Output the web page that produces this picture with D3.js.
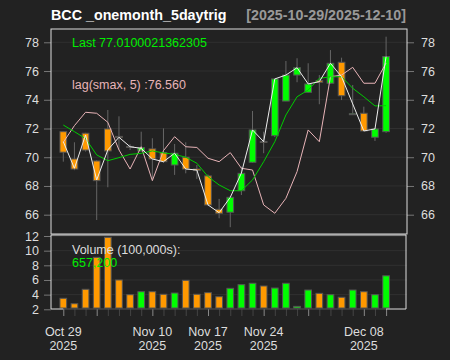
<!DOCTYPE html>
<html><head><meta charset="utf-8">
<script src="https://cdn.jsdelivr.net/npm/d3@7"></script>
<style>
html,body{margin:0;padding:0;background:#222222;}
svg{display:block;font-family:"Liberation Sans",Arial,Helvetica,sans-serif;}
</style></head>
<body><svg id="c" width="450" height="360"></svg>
<script>
const dates = ["2025-10-29","2025-10-30","2025-10-31","2025-11-03","2025-11-04","2025-11-05","2025-11-06","2025-11-07",
"2025-11-10","2025-11-11","2025-11-12","2025-11-13","2025-11-14","2025-11-17","2025-11-18","2025-11-19","2025-11-20","2025-11-21",
"2025-11-24","2025-11-25","2025-11-26","2025-11-28","2025-12-01","2025-12-02","2025-12-03","2025-12-04","2025-12-05",
"2025-12-08","2025-12-09","2025-12-10"];
const open  = [71.78,69.88,71.67,69.74,71.97,71.45,70.75,70.44,70.58,70.32,69.46,70.00,69.18,68.70,66.38,66.17,67.67,69.65,71.10,71.50,73.91,75.72,74.52,75.33,75.15,76.61,73.00,73.06,71.39,71.78];
const high  = [71.80,71.04,71.70,69.80,73.29,72.85,70.90,71.78,71.32,72.01,70.92,71.04,69.46,68.80,67.10,67.30,69.34,73.22,71.78,75.50,76.70,76.89,76.54,75.72,77.46,76.93,75.03,73.52,72.00,78.39];
const low   = [69.69,69.10,70.40,65.63,67.91,70.50,70.50,70.40,68.49,69.60,68.77,68.88,68.49,66.60,65.75,65.13,67.37,69.60,70.28,71.40,73.90,75.22,74.50,73.69,75.10,73.98,72.95,71.80,71.13,71.70];
const close = [70.35,69.18,70.50,68.37,70.44,71.38,70.70,70.67,69.88,69.69,70.28,69.18,69.07,66.68,66.10,67.21,68.88,71.90,71.06,75.45,75.72,76.23,75.10,75.22,76.54,74.28,73.03,71.83,71.97,77.01];
const volume = [3.50,2.76,4.73,9.09,11.82,6.00,3.99,4.40,4.40,4.05,4.22,5.95,4.05,4.27,3.72,4.86,5.36,5.55,5.18,4.90,5.55,2.40,4.63,4.18,3.99,3.64,4.63,4.40,3.99,6.572];
const smax   = [71.08,69.23,71.55,68.42,70.51,71.39,70.73,70.62,69.88,69.69,70.28,69.18,69.11,66.68,66.14,67.21,68.90,71.90,71.08,75.45,75.72,76.23,75.10,75.26,76.54,75.60,73.71,71.83,71.97,77.01];
const lagSmax= [71.04,72.20,73.13,73.06,72.43,70.51,69.18,70.73,68.37,70.46,71.43,70.73,70.68,69.93,69.69,70.32,69.23,69.11,66.68,66.10,67.14,69.00,71.90,71.08,75.60,75.72,76.26,75.15,75.15,76.56];
const trig   = [72.24,71.78,71.30,70.16,69.76,69.97,70.20,70.27,70.44,70.30,70.20,70.00,69.58,68.65,68.07,67.67,67.67,68.42,69.69,71.08,72.94,74.21,74.68,75.49,75.60,75.60,74.80,74.21,73.57,73.59];
const priceTicks = [66,68,70,72,74,76,78];
const volTicks = [2,4,6,8,10,12];
const labelIdx = [0,8,13,18,27];
const majorIdx = [0,3,8,13,18,22,27,29];
const titleText = "BCC _onemonth_5daytrig";
const rangeText = "[2025-10-29/2025-12-10]";
const lastText = "Last 77.0100021362305";
const lagText = "lag(smax, 5) :76.560";
const volTitle = "Volume (100,000s):";
const volLast = "657,200";

const UP="#00ff00", DN="#ff9900";
const svg = d3.select("#c");
const L=51, R=407, T=29, B1=234, T2=235, B2=309;
const x = d3.scaleLinear().domain([0,29]).range([63.3,386.1]);
const y = d3.scaleLinear().domain([66,78]).range([214.7,42.3]);
const yv = d3.scaleLinear().domain([2,12]).range([309.3,236]);
const idx = d3.range(dates.length);
const bw = 6.7;
const fmt = d3.timeFormat("%b %d"), parse = d3.timeParse("%Y-%m-%d");
const isUp = i => close[i] >= open[i];

// grid
svg.append("g").selectAll("line").data(priceTicks).join("line")
  .attr("x1",L).attr("x2",R).attr("y1",d=>y(d)).attr("y2",d=>y(d))
  .attr("stroke","#303030");
svg.append("g").selectAll("line").data(volTicks.slice(1)).join("line")
  .attr("x1",L).attr("x2",R).attr("y1",d=>yv(d)).attr("y2",d=>yv(d))
  .attr("stroke","#303030");

function styleAxis(g){
  g.select(".domain").remove();
  g.selectAll(".tick line").attr("stroke","#777777");
  g.selectAll(".tick text").attr("fill","#dddddd").style("font-size","12.5px").style("font-family","Liberation Sans, Arial, sans-serif");
}
styleAxis(svg.append("g").attr("transform",`translate(${L},0)`)
  .call(d3.axisLeft(y).tickValues(priceTicks).tickSize(7).tickPadding(5)));
styleAxis(svg.append("g").attr("transform",`translate(${R},0)`)
  .call(d3.axisRight(y).tickValues(priceTicks).tickSize(7).tickPadding(7)));
styleAxis(svg.append("g").attr("transform",`translate(${L},0)`)
  .call(d3.axisLeft(yv).tickValues(volTicks).tickSize(7).tickPadding(5)));

// x axis ticks
const gx = svg.append("g").attr("transform",`translate(0,${B2})`)
  .call(d3.axisBottom(x).tickValues(idx).tickSize(7).tickFormat(""));
gx.select(".domain").remove();
gx.selectAll(".tick line").attr("stroke",d=>majorIdx.includes(d)?"#888888":"#444444");
svg.append("line").attr("x1",x(0)).attr("x2",x(29)).attr("y1",B2).attr("y2",B2).attr("stroke","#555555");
const lab = svg.append("g").selectAll("text").data(labelIdx).join("text")
  .attr("x",d=>x(d)).attr("text-anchor","middle").attr("fill","#dddddd").style("font-size","12.5px");
lab.append("tspan").attr("x",d=>x(d)).attr("y",336).text(d=>fmt(parse(dates[d])));
lab.append("tspan").attr("x",d=>x(d)).attr("y",349.5).text(d=>dates[d].slice(0,4));

// candles
const cg = svg.append("g");
cg.selectAll("line.w").data(idx).join("line").attr("class","w")
  .attr("x1",i=>x(i)).attr("x2",i=>x(i)).attr("y1",i=>y(high[i])).attr("y2",i=>y(low[i]))
  .attr("stroke","#666666").attr("stroke-width",1);
cg.selectAll("rect").data(idx).join("rect")
  .attr("x",i=>x(i)-bw/2).attr("width",bw)
  .attr("y",i=>y(Math.max(open[i],close[i])))
  .attr("height",i=>Math.max(1,Math.abs(y(open[i])-y(close[i]))))
  .attr("fill",i=>isUp(i)?UP:DN).attr("stroke","#555555").attr("stroke-width",1);

// lines
const line = d3.line().x((d,i)=>x(i)).y(d=>y(d));
svg.append("path").attr("d",line(lagSmax)).attr("fill","none").attr("stroke","#e8b4b8").attr("stroke-width",1);
svg.append("path").attr("d",line(trig)).attr("fill","none").attr("stroke","#00cc00").attr("stroke-width",1);
svg.append("path").attr("d",line(smax)).attr("fill","none").attr("stroke","#eeeeee").attr("stroke-width",1);

// volume bars
svg.append("g").selectAll("rect").data(idx).join("rect")
  .attr("x",i=>x(i)-bw/2).attr("width",bw)
  .attr("y",i=>yv(volume[i])).attr("height",i=>B2-1-yv(volume[i]))
  .attr("fill",i=>isUp(i)?UP:DN)
  .attr("stroke","#555555").attr("stroke-width",1);

// frames
svg.append("rect").attr("x",L).attr("y",T).attr("width",R-L).attr("height",B1-T).attr("fill","none").attr("stroke","#dddddd");
svg.append("polyline").attr("points",`${x(0)},${B2} ${L},${B2} ${L},${T2} ${R-1},${T2} ${R-1},${B2} ${x(29)},${B2}`)
  .attr("fill","none").attr("stroke","#dddddd");

// texts
svg.append("text").attr("x",L).attr("y",20).attr("fill","#ffffff").style("font-weight","bold").style("font-size","14.3px").text(titleText);
svg.append("text").attr("x",R-1).attr("y",20).attr("text-anchor","end").attr("fill","#999999").style("font-weight","bold").style("font-size","14.3px").text(rangeText);
svg.append("text").attr("x",72).attr("y",46.5).attr("fill","#00ee00").style("font-size","12.5px").text(lastText);
svg.append("text").attr("x",72).attr("y",88.5).attr("fill","#e8b4b8").style("font-size","12.5px").text(lagText);
svg.append("text").attr("x",72).attr("y",253.5).attr("fill","#dddddd").style("font-size","12.5px").text(volTitle);
svg.append("text").attr("x",72).attr("y",267).attr("fill","#00ee00").style("font-size","12.5px").text(volLast);
</script></body></html>
